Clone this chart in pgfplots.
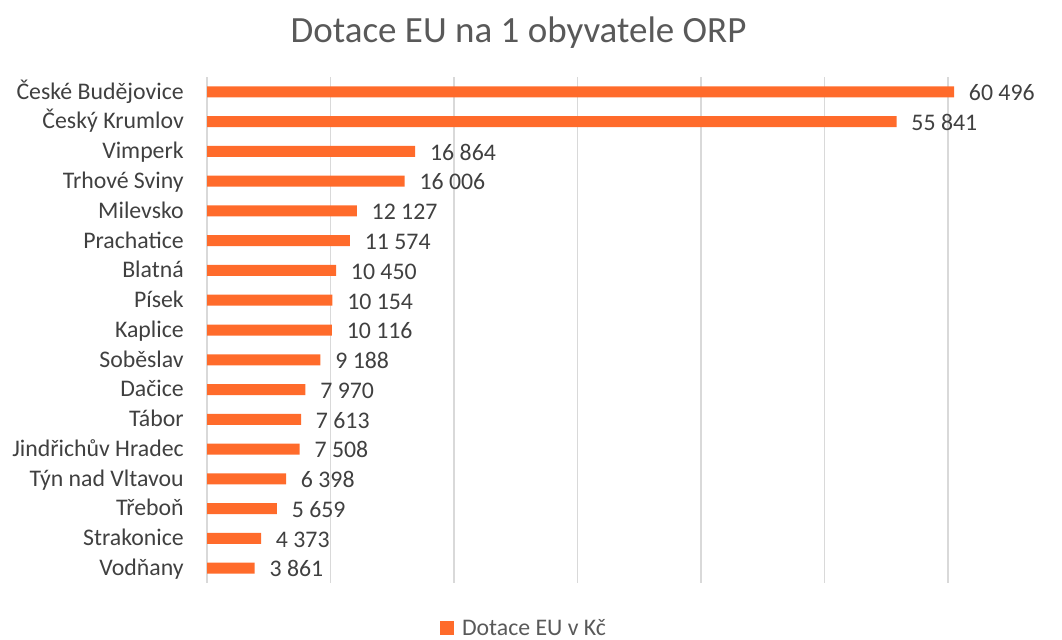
\documentclass[border=0pt]{standalone}
\usepackage{fontspec}
\setmainfont{Carlito}
\usepackage{pgfplots}
\pgfplotsset{compat=1.18}
\definecolor{barorange}{HTML}{FF6B2B}
\definecolor{labelgray}{HTML}{404040}
\definecolor{titlegray}{HTML}{595959}
\definecolor{gridgray}{HTML}{D9D9D9}

\begin{document}
\begin{tikzpicture}
\path[use as bounding box] (0,0) rectangle (796.5pt,-479.25pt);
\node[anchor=base, inner sep=0pt, text=titlegray,
      font=\fontsize{27.75}{32}\selectfont] at (388.9pt,-31.5pt)
      {Dotace EU na 1 obyvatele ORP};
\begin{axis}[
    at={(155.25pt,-437.25pt)}, anchor=south west,
    scale only axis,
    width=641.25pt, height=379.5pt,
    xbar, bar width=8.25pt,
    xmin=0, xmax=69240,
    ymin=-0.5, ymax=16.5, y dir=reverse,
    ytick={0,1,2,3,4,5,6,7,8,9,10,11,12,13,14,15,16},
    yticklabels={České Budějovice, Český Krumlov, Vimperk, Trhové Sviny,
        Milevsko, Prachatice, Blatná, Písek, Kaplice, Soběslav, Dačice,
        Tábor, Jindřichův Hradec, Týn nad Vltavou, Třeboň, Strakonice, Vodňany},
    xtick={0,10000,20000,30000,40000,50000,60000},
    xticklabels={},
    scaled x ticks=false,
    xmajorgrids,
    grid style={gridgray, line width=1pt},
    major tick length=0pt,
    axis line style={draw=none},
    tick label style={text=labelgray, font=\fontsize{17.85}{20}\selectfont},
    yticklabel style={anchor=base east, inner sep=0pt, xshift=-17.25pt, yshift=-5.5pt},
    point meta=x,
    nodes near coords={\pgfmathprintnumber[fixed, precision=0, 1000 sep={\ }, assume math mode=true]{\pgfplotspointmeta}},
    every node near coord/.append style={anchor=base west, inner sep=0pt,
        xshift=11pt, yshift=-6.6pt, text=labelgray,
        font=\fontsize{17.85}{20}\selectfont},
    legend style={draw=none, fill=none, inner sep=0pt,
        at={(0.2725,-0.1074)}, anchor=south west,
        text=titlegray, font=\fontsize{17.85}{20}\selectfont,
        nodes={inner sep=0pt},
        /tikz/every odd column/.append style={column sep=5.8pt}},
    legend image code/.code={\fill[barorange] (0pt,-5.25pt) rectangle (10.5pt,5.25pt);},
]
\addplot[fill=barorange, draw=none] coordinates {
    (60496,0) (55841,1) (16864,2) (16006,3) (12127,4) (11574,5)
    (10450,6) (10154,7) (10116,8) (9188,9) (7970,10) (7613,11)
    (7508,12) (6398,13) (5659,14) (4373,15) (3861,16)
};
\addlegendentry{Dotace EU v Kč}
\end{axis}
\end{tikzpicture}
\end{document}
